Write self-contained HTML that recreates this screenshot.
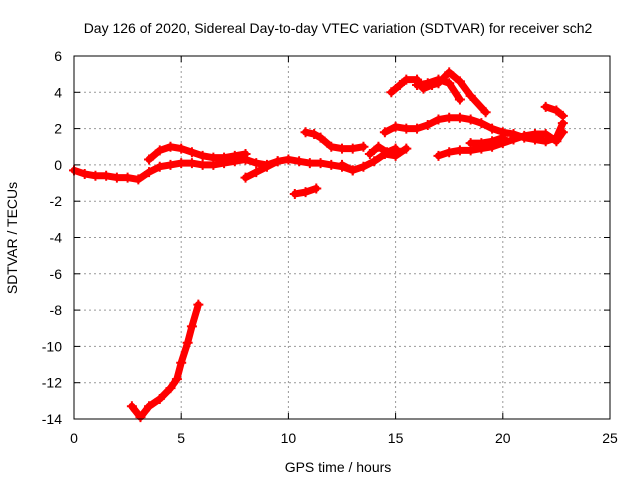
<!DOCTYPE html>
<html><head><meta charset="utf-8"><style>
body{margin:0;background:#fff}
svg text{font-family:"Liberation Sans",sans-serif;font-size:14px;fill:#000}
</style></head><body>
<svg id="chart" width="640" height="480">
<rect width="640" height="480" fill="#fff"/>
<text x="338" y="33" text-anchor="middle">Day 126 of 2020, Sidereal Day-to-day VTEC variation (SDTVAR) for receiver sch2</text>
<text x="338" y="472" text-anchor="middle">GPS time / hours</text>
<text transform="translate(17,238) rotate(-90)" text-anchor="middle">SDTVAR / TECUs</text>
<g id="grid"></g><g id="ticks"></g><g id="marks"></g>
<rect x="74" y="56" width="536" height="363" fill="none" stroke="#000" stroke-width="1"/>
</svg>
<script>
const xTicks=[0,5,10,15,20,25];
const yTicks=[6,4,2,0,-2,-4,-6,-8,-10,-12,-14];
const seg1=[[0,-0.3],[0.5,-0.5],[1,-0.6],[1.5,-0.6],[2,-0.7],[2.5,-0.7],[3,-0.8],[3.5,-0.4],[4,-0.1],[4.5,0],[5,0.1],[5.5,0.1],[6,0],[6.5,0],[7,0.1],[7.5,0.2],[8,0.3],[8.5,0.1],[9,0],[9.5,0.2],[10,0.3],[10.5,0.2],[11,0.1],[11.5,0.1],[12,0.0],[12.5,-0.1],[13,-0.3]];
const seg2=[[3.5,0.3],[4,0.8],[4.5,1.0],[5,0.9],[5.5,0.7],[6,0.5],[6.5,0.4],[7,0.4],[7.5,0.5],[8,0.6]];
const seg3=[[8,-0.7],[8.5,-0.4],[9,-0.1],[9.5,0.2]];
const seg4=[[10.3,-1.6],[10.8,-1.5],[11.3,-1.3]];
const seg5=[[10.8,1.8],[11.2,1.7],[11.5,1.5],[12,1.0],[12.5,0.9],[13,0.9],[13.5,1.0]];
const seg6=[[12.5,0],[13,-0.3],[13.5,-0.1],[14,0.2],[14.5,0.6],[15,0.5],[15.5,0.9]];
const seg7=[[13.8,0.6],[14.2,1.0],[14.6,0.7],[15,0.9]];
const seg8=[[14.5,1.8],[15,2.1],[15.5,2.0],[16,2.0],[16.5,2.2],[17,2.5],[17.5,2.6],[18,2.6],[18.5,2.5],[19,2.3],[19.5,2.0],[20,1.8],[20.5,1.7],[21,1.5],[21.5,1.4],[22,1.3],[22.5,1.5],[22.8,2.3]];
const seg9=[[14.8,4.0],[15.2,4.4],[15.5,4.7],[16,4.7],[16.3,4.2],[16.7,4.4],[17,4.5],[17.5,5.1],[18,4.6],[18.5,3.8],[19.2,2.9]];
const seg10=[[16,4.4],[16.5,4.5],[17,4.7],[17.5,4.5],[18,3.6]];
const seg11=[[17,0.5],[17.5,0.7],[18,0.8],[18.5,0.8],[19,0.9],[19.5,1.0],[20,1.2],[20.5,1.4],[21,1.6],[21.5,1.7],[22,1.7],[22.5,1.3],[22.8,1.8]];
const seg12=[[18.5,1.2],[19,1.2],[19.5,1.3],[20,1.5]];
const seg13=[[22,3.2],[22.5,3.0],[22.8,2.7]];
const seg14=[[2.7,-13.3],[3.1,-13.9],[3.5,-13.3],[4,-12.9],[4.5,-12.3],[4.8,-11.8],[5,-10.9],[5.3,-9.8],[5.5,-8.9],[5.8,-7.7]];
const series=[seg1,seg2,seg3,seg4,seg5,seg6,seg7,seg8,seg9,seg10,seg11,seg12,seg13,seg14];
const X=v=>74+v*536/25, Y=v=>56+(6-v)*363/20;
const NS="http://www.w3.org/2000/svg";
const grid=document.getElementById('grid'),ticks=document.getElementById('ticks'),marks=document.getElementById('marks');
function mk(t,a,p){const e=document.createElementNS(NS,t);for(const k in a)e.setAttribute(k,a[k]);p.appendChild(e);return e;}
xTicks.forEach(v=>{const x=X(v);
 if(v>0&&v<25){const g=mk('line',{x1:x,x2:x,y1:56,y2:419,stroke:'#999','stroke-dasharray':'2,3'},grid);
 
 }
 mk('line',{x1:x,x2:x,y1:419,y2:413,stroke:'#000'},ticks);mk('line',{x1:x,x2:x,y1:56,y2:62,stroke:'#000'},ticks);
 const t=mk('text',{x:x,y:443,'text-anchor':'middle'},ticks);t.textContent=v;
 
 });
yTicks.forEach(v=>{const y=Y(v);
 if(v<6&&v>-14){const g=mk('line',{x1:74,x2:610,y1:y,y2:y,stroke:'#999','stroke-dasharray':'2,3'},grid);
 
 }
 mk('line',{x1:74,x2:80,y1:y,y2:y,stroke:'#000'},ticks);mk('line',{x1:610,x2:604,y1:y,y2:y,stroke:'#000'},ticks);
 const t=mk('text',{x:62,y:y+5,'text-anchor':'end'},ticks);t.textContent=v;
 
 });
series.forEach((s,i)=>{
 const pl=mk('polyline',{points:s.map(p=>X(p[0])+','+Y(p[1])).join(' '),fill:'none',stroke:'#f00','stroke-width':7,'stroke-linejoin':'round','stroke-linecap':'round'},marks);
 
 
 s.forEach(p=>{const x=X(p[0]),y=Y(p[1]);
  const m=mk('path',{d:`M${x-5},${y}h10M${x},${y-5}v10`,stroke:'#f00','stroke-width':2},marks);
  
  });
});
</script>
</body></html>
